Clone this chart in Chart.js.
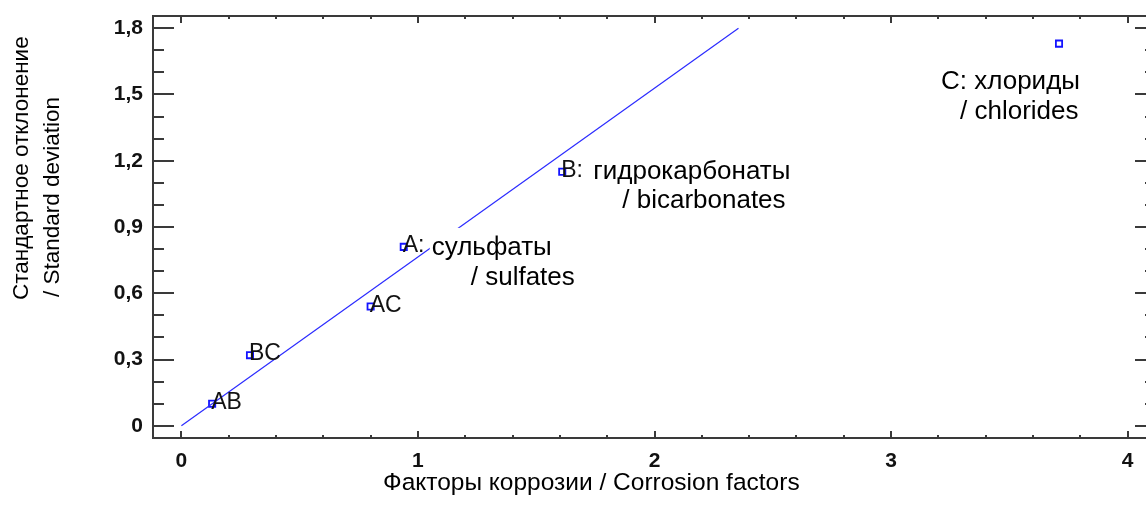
<!DOCTYPE html>
<html>
<head>
<meta charset="utf-8">
<script src="https://cdn.jsdelivr.net/npm/chart.js@4.4.1/dist/chart.umd.min.js"></script>
<style>
  html, body { margin: 0; padding: 0; background: #fff; overflow: hidden; width: 1146px; height: 515px; }
  canvas { display: block; }
</style>
</head>
<body>
<canvas id="c" width="1170" height="515"></canvas>
<script>
// Half-normal plot of standardized effects
const effectNames = ['AB', 'BC', 'AC', 'A', 'B', 'C'];
const effectX = [0.13, 0.29, 0.80, 0.94, 1.61, 3.71];
const effectY = [0.10, 0.32, 0.54, 0.81, 1.15, 1.73];
const pointLabels = ['AB', 'BC', 'AC', 'A:', 'B:', ''];

// reference line through the origin
const fitX = [0, 2.355];
const fitY = [0, 1.80];

const xTicks = [0, 1, 2, 3, 4];
const xTickLabels = ['0', '1', '2', '3', '4'];
const yTicks = [0, 0.3, 0.6, 0.9, 1.2, 1.5, 1.8];
const yTickLabels = ['0', '0,3', '0,6', '0,9', '1,2', '1,5', '1,8'];

// factor notes (text only)
const noteA = ['сульфаты', '/ sulfates'];
const noteB = ['гидрокарбонаты', '/ bicarbonates'];
const noteC = ['C: хлориды', '/ chlorides'];

const xTitle = 'Факторы коррозии / Corrosion factors';
const yTitle = ['Стандартное отклонение', '/ Standard deviation'];

const FONT = "'Liberation Sans', Arial, sans-serif";
const AXIS_COLOR = '#3a3a3a';
const TEXT_COLOR = '#121212';

// frame with inward ticks on all four sides
const framePlugin = {
  id: 'frame',
  afterDraw(chart) {
    const { ctx, chartArea: a, scales: { x, y } } = chart;
    ctx.save();
    ctx.strokeStyle = AXIS_COLOR;
    ctx.lineWidth = 2;
    ctx.strokeRect(a.left, a.top, a.right - a.left, a.bottom - a.top);

    ctx.lineWidth = 2;
    ctx.beginPath();
    // vertical axes: major every 0.3, minor every 0.1
    for (let k = 0; k <= 18; k++) {
      const v = k / 10;
      const py = Math.round(y.getPixelForValue(v));
      const major = k % 3 === 0;
      const len = major ? 21 : 11;
      ctx.moveTo(a.left, py); ctx.lineTo(a.left + len, py);
      ctx.moveTo(a.right, py); ctx.lineTo(a.right - len, py);
    }
    // horizontal axes: major every 1, minor every 0.2
    for (let k = 0; k <= 20; k++) {
      const v = k / 5;
      const px = Math.round(x.getPixelForValue(v));
      const major = k % 5 === 0;
      const len = major ? 7 : 3;
      ctx.moveTo(px, a.bottom); ctx.lineTo(px, a.bottom - len);
      ctx.moveTo(px, a.top); ctx.lineTo(px, a.top + len);
    }
    ctx.stroke();

    // axis titles
    ctx.fillStyle = '#000';
    ctx.font = '24.5px ' + FONT;
    ctx.textAlign = 'left';
    ctx.textBaseline = 'alphabetic';
    ctx.fillText(xTitle, 383, 490);

    ctx.font = '22.5px ' + FONT;
    ctx.save();
    ctx.translate(28, 300);
    ctx.rotate(-Math.PI / 2);
    ctx.fillText(yTitle[0], 0, 0);
    ctx.restore();
    ctx.save();
    ctx.translate(59, 297);
    ctx.rotate(-Math.PI / 2);
    ctx.fillText(yTitle[1], 0, 0);
    ctx.restore();
    ctx.restore();
  }
};

// point labels and factor notes on white boxes
const labelPlugin = {
  id: 'labels',
  afterDatasetsDraw(chart) {
    const { ctx, scales: { x, y } } = chart;
    const px = i => x.getPixelForValue(effectX[i]);
    const py = i => y.getPixelForValue(effectY[i]);
    ctx.save();

    // note layout: [effect index, lines, offsets of each line from the point]
    const notes = [
      [3, noteA, [[28, 8], [67, 38]]],
      [4, noteB, [[31, 7], [60, 36]]],
      [5, noteC, [[-118, 45], [-99, 75]]]
    ];
    ctx.font = '26px ' + FONT;
    ctx.textAlign = 'left';
    ctx.textBaseline = 'alphabetic';
    notes.forEach(([i, lines, offs]) => {
      const x0 = px(i), y0 = py(i);
      let l = Infinity, r = -Infinity, t = Infinity, b = -Infinity;
      lines.forEach((s, j) => {
        const lx = x0 + offs[j][0], ly = y0 + offs[j][1];
        l = Math.min(l, lx); r = Math.max(r, lx + ctx.measureText(s).width);
        t = Math.min(t, ly - 27); b = Math.max(b, ly + 6);
      });
      ctx.fillStyle = '#fff';
      ctx.fillRect(l - 2, t, r - l + 4, b - t);
      ctx.fillStyle = '#000';
      lines.forEach((s, j) => ctx.fillText(s, x0 + offs[j][0], y0 + offs[j][1]));
    });

    ctx.font = '23px ' + FONT;
    ctx.fillStyle = TEXT_COLOR;
    ctx.textBaseline = 'middle';
    pointLabels.forEach((s, i) => {
      if (s) ctx.fillText(s, px(i) - 1, py(i) - 1);
    });
    ctx.restore();
  }
};

new Chart(document.getElementById('c'), {
  type: 'scatter',
  data: {
    datasets: [
      {
        label: 'line',
        type: 'line',
        data: fitX.map((v, i) => ({ x: v, y: fitY[i] })),
        borderColor: '#2b2bff',
        borderWidth: 1.2,
        pointRadius: 0,
        fill: false,
        tension: 0
      },
      {
        label: 'effects',
        data: effectX.map((v, i) => ({ x: v, y: effectY[i] })),
        pointStyle: 'rect',
        pointRadius: 4.4,
        borderWidth: 1.8,
        borderColor: '#1414ff',
        backgroundColor: 'rgba(255,255,255,0)'
      }
    ]
  },
  options: {
    responsive: false,
    animation: false,
    events: [],
    layout: { padding: { left: 0, top: 16, right: 14, bottom: 0 } },
    plugins: { legend: { display: false }, tooltip: { enabled: false } },
    scales: {
      x: {
        type: 'linear',
        min: -0.12,
        max: 4.12,
        afterBuildTicks: s => { s.ticks = xTicks.map(v => ({ value: v })); },
        afterFit: s => { s.height = 77; s.paddingLeft = 0; s.paddingRight = 0; },
        ticks: {
          autoSkip: false, maxRotation: 0, padding: 11,
          callback: (v, i) => xTickLabels[i],
          color: TEXT_COLOR,
          font: { family: FONT, size: 21, weight: 'bold' }
        },
        grid: { display: false, drawTicks: false },
        border: { display: false }
      },
      y: {
        type: 'linear',
        min: -0.055,
        max: 1.855,
        afterBuildTicks: s => { s.ticks = yTicks.map(v => ({ value: v })); },
        afterFit: s => { s.width = 153; s.paddingTop = 0; s.paddingBottom = 0; },
        ticks: {
          autoSkip: false, padding: 10,
          callback: (v, i) => yTickLabels[i],
          color: TEXT_COLOR,
          font: { family: FONT, size: 21, weight: 'bold' }
        },
        grid: { display: false, drawTicks: false },
        border: { display: false }
      }
    }
  },
  plugins: [framePlugin, labelPlugin]
});
</script>
</body>
</html>
